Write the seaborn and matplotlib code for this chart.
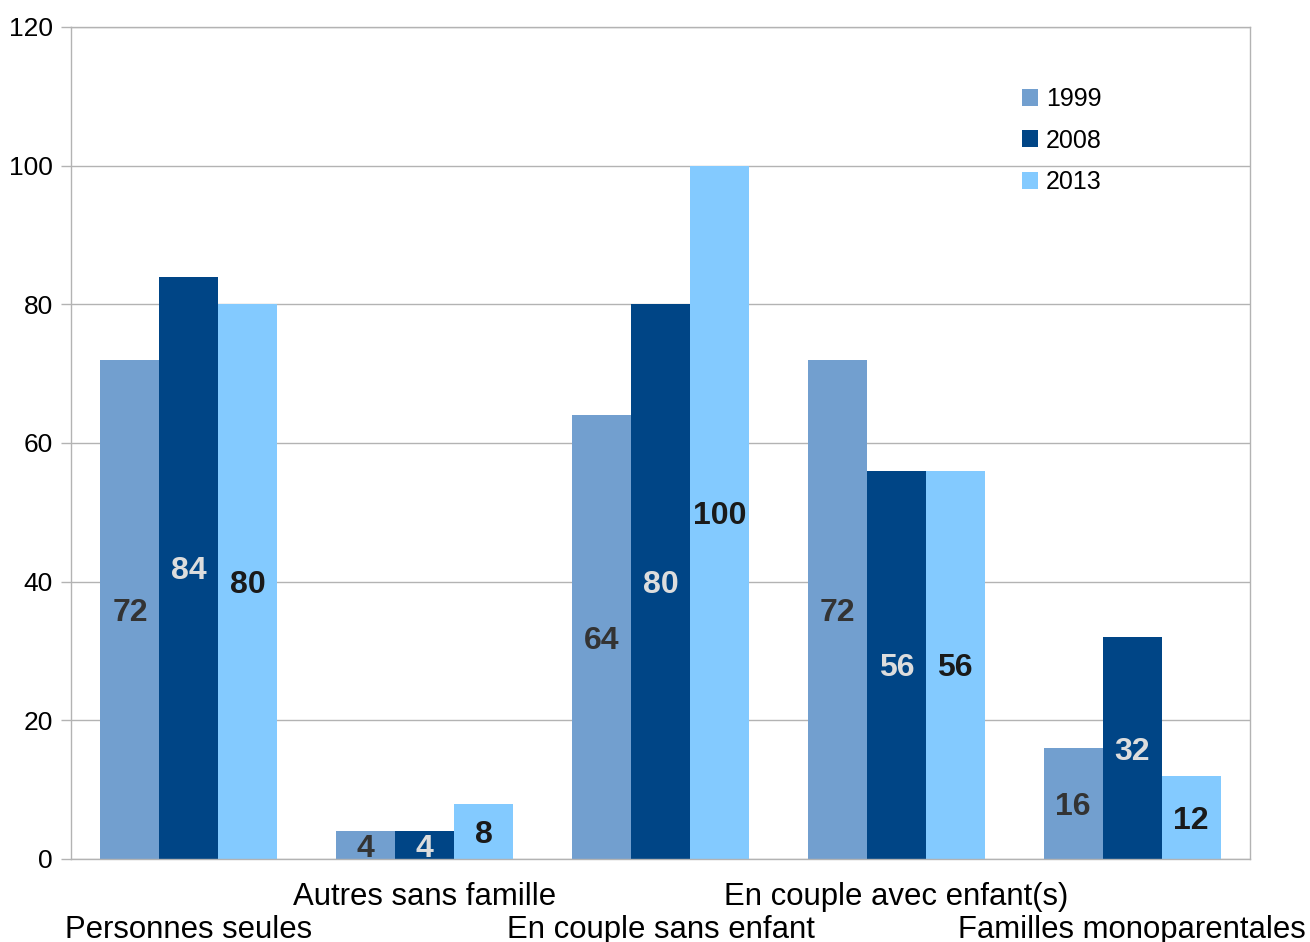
import matplotlib
matplotlib.use("Agg")
import matplotlib.pyplot as plt
import seaborn as sns
import pandas as pd
import numpy as np

categories = ["Personnes seules", "Autres sans famille", "En couple sans enfant",
              "En couple avec enfant(s)", "Familles monoparentales"]
years = ["1999", "2008", "2013"]
v1999 = [72, 4, 64, 72, 16]
v2008 = [84, 4, 80, 56, 32]
v2013 = [80, 8, 100, 56, 12]
yticks = [0, 20, 40, 60, 80, 100, 120]

colors = ["#729fcf", "#004586", "#83caff"]
label_colors = ["#333333", "#dddddd", "#1a1a1a"]

rows = []
for y, vals in zip(years, [v1999, v2008, v2013]):
    for c, v in zip(categories, vals):
        rows.append({"cat": c, "year": y, "value": v})
df = pd.DataFrame(rows)

sns.set_style("white")
plt.rcParams['font.family'] = ['Liberation Sans', 'DejaVu Sans']
plt.rcParams['text.color'] = 'black'

fig = plt.figure(figsize=(13.1, 9.42), dpi=100)
ax = fig.add_axes([71/1310, 1-859/942, (1250-71)/1310, (859-27)/942])

sns.barplot(data=df, x="cat", y="value", hue="year", order=categories,
            hue_order=years, palette=colors, width=0.75, ax=ax,
            saturation=1, errorbar=None, edgecolor="none", linewidth=0)

for cont, lc in zip(ax.containers, label_colors):
    labs = ax.bar_label(cont, label_type="center", color=lc, fontsize=23,
                        fontweight="bold", fmt="%d")
    for t in labs:
        t.set_y(t.get_position()[1])
        t.set_va("center_baseline")

grid_c = "#b3b3b3"
ax.set_ylim(0, 120)
ax.set_xlim(-0.5, 4.5)
ax.set_yticks(yticks)
ax.set_yticklabels([str(t) for t in yticks], fontsize=19)
ax.yaxis.grid(True, color=grid_c, linewidth=1)
ax.set_axisbelow(True)
for s in ax.spines.values():
    s.set_color(grid_c)
    s.set_linewidth(1)
    s.set_visible(True)

ax.set_xticks(np.arange(-0.5, 5, 1))
ax.set_xticklabels([])
ax.set_xticks(np.arange(5), minor=True)
ax.set_xticklabels(categories, minor=True, fontsize=22.4)
ax.tick_params(axis="x", which="major", length=8, color=grid_c, width=1)
ax.tick_params(axis="x", which="minor", length=0, labelcolor="black")
ax.tick_params(axis="y", length=7, color=grid_c, width=1, pad=6, left=True,
               labelcolor="black")
for i, t in enumerate(ax.xaxis.get_minor_ticks()):
    t.set_pad(40 if i % 2 == 0 else 16.5)
ax.set_xlabel("")
ax.set_ylabel("")

ax.legend(loc="upper left", bbox_to_anchor=(1012/1310, 1-77/942),
          bbox_transform=fig.transFigure, frameon=False, fontsize=18,
          handlelength=0.65, handleheight=0.65, handletextpad=0.3,
          labelspacing=0.7, borderaxespad=0, labelcolor="black")

fig.savefig("out.png", dpi=100)
